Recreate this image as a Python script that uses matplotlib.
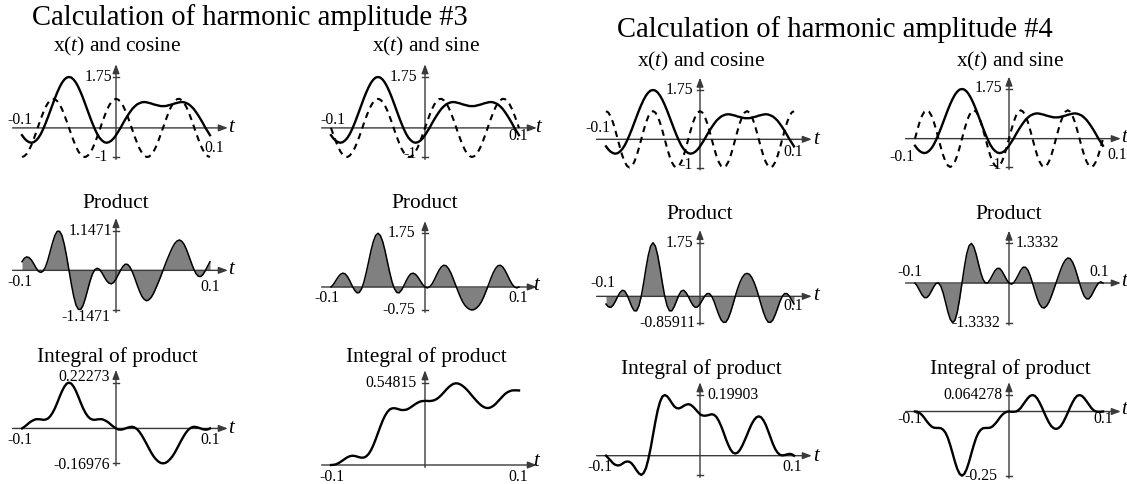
import matplotlib
matplotlib.use('Agg')
import matplotlib.pyplot as plt

plt.rcParams['font.family'] = 'Liberation Serif'
plt.rcParams['mathtext.fontset'] = 'custom'
plt.rcParams['mathtext.rm'] = 'Liberation Serif'
plt.rcParams['mathtext.it'] = 'Liberation Serif:italic'

# sample times (s), every 2.5 ms
t = [-0.1, -0.0975, -0.095, -0.0925, -0.09, -0.0875, -0.085, -0.0825, -0.08, -0.0775,
     -0.075, -0.0725, -0.07, -0.0675, -0.065, -0.0625, -0.06, -0.0575, -0.055, -0.0525,
     -0.05, -0.0475, -0.045, -0.0425, -0.04, -0.0375, -0.035, -0.0325, -0.03, -0.0275,
     -0.025, -0.0225, -0.02, -0.0175, -0.015, -0.0125, -0.01, -0.0075, -0.005, -0.0025,
     0.0, 0.0025, 0.005, 0.0075, 0.01, 0.0125, 0.015, 0.0175, 0.02, 0.0225,
     0.025, 0.0275, 0.03, 0.0325, 0.035, 0.0375, 0.04, 0.0425, 0.045, 0.0475,
     0.05, 0.0525, 0.055, 0.0575, 0.06, 0.0625, 0.065, 0.0675, 0.07, 0.0725,
     0.075, 0.0775, 0.08, 0.0825, 0.085, 0.0875, 0.09, 0.0925, 0.095, 0.0975, 0.1]

# signal x(t)
x_vals = [-0.25, -0.36, -0.44, -0.49, -0.51, -0.49, -0.43, -0.34, -0.21, -0.04,
          0.15, 0.36, 0.58, 0.80, 1.02, 1.22, 1.40, 1.55, 1.66, 1.73,
          1.75, 1.73, 1.66, 1.55, 1.40, 1.22, 1.02, 0.80, 0.58, 0.36,
          0.15, -0.04, -0.21, -0.34, -0.43, -0.49, -0.51, -0.49, -0.44, -0.36,
          -0.25, -0.12, 0.01, 0.16, 0.30, 0.43, 0.55, 0.66, 0.74, 0.81,
          0.85, 0.88, 0.89, 0.88, 0.86, 0.84, 0.81, 0.79, 0.77, 0.75,
          0.75, 0.75, 0.77, 0.79, 0.81, 0.84, 0.86, 0.88, 0.89, 0.88,
          0.85, 0.81, 0.74, 0.66, 0.55, 0.43, 0.30, 0.16, 0.01, -0.12, -0.25]

# harmonic 3 and 4 cosine / sine (dashed)
cos3 = [-1, -0.97, -0.89, -0.76, -0.59, -0.38, -0.16, 0.08, 0.31, 0.52,
        0.71, 0.85, 0.95, 1.00, 0.99, 0.92, 0.81, 0.65, 0.45, 0.23,
        0, -0.23, -0.45, -0.65, -0.81, -0.92, -0.99, -1.00, -0.95, -0.85,
        -0.71, -0.52, -0.31, -0.08, 0.16, 0.38, 0.59, 0.76, 0.89, 0.97,
        1, 0.97, 0.89, 0.76, 0.59, 0.38, 0.16, -0.08, -0.31, -0.52,
        -0.71, -0.85, -0.95, -1.00, -0.99, -0.92, -0.81, -0.65, -0.45, -0.23,
        0, 0.23, 0.45, 0.65, 0.81, 0.92, 0.99, 1.00, 0.95, 0.85,
        0.71, 0.52, 0.31, 0.08, -0.16, -0.38, -0.59, -0.76, -0.89, -0.97, -1]
sin3 = [0, -0.23, -0.45, -0.65, -0.81, -0.92, -0.99, -1.00, -0.95, -0.85,
        -0.71, -0.52, -0.31, -0.08, 0.16, 0.38, 0.59, 0.76, 0.89, 0.97,
        1, 0.97, 0.89, 0.76, 0.59, 0.38, 0.16, -0.08, -0.31, -0.52,
        -0.71, -0.85, -0.95, -1.00, -0.99, -0.92, -0.81, -0.65, -0.45, -0.23,
        0, 0.23, 0.45, 0.65, 0.81, 0.92, 0.99, 1.00, 0.95, 0.85,
        0.71, 0.52, 0.31, 0.08, -0.16, -0.38, -0.59, -0.76, -0.89, -0.97,
        -1, -0.97, -0.89, -0.76, -0.59, -0.38, -0.16, 0.08, 0.31, 0.52,
        0.71, 0.85, 0.95, 1.00, 0.99, 0.92, 0.81, 0.65, 0.45, 0.23, 0]
cos4 = [1, 0.95, 0.81, 0.59, 0.31, 0, -0.31, -0.59, -0.81, -0.95,
        -1, -0.95, -0.81, -0.59, -0.31, 0, 0.31, 0.59, 0.81, 0.95,
        1, 0.95, 0.81, 0.59, 0.31, 0, -0.31, -0.59, -0.81, -0.95,
        -1, -0.95, -0.81, -0.59, -0.31, 0, 0.31, 0.59, 0.81, 0.95,
        1, 0.95, 0.81, 0.59, 0.31, 0, -0.31, -0.59, -0.81, -0.95,
        -1, -0.95, -0.81, -0.59, -0.31, 0, 0.31, 0.59, 0.81, 0.95,
        1, 0.95, 0.81, 0.59, 0.31, 0, -0.31, -0.59, -0.81, -0.95,
        -1, -0.95, -0.81, -0.59, -0.31, 0, 0.31, 0.59, 0.81, 0.95, 1]
sin4 = [0, 0.31, 0.59, 0.81, 0.95, 1, 0.95, 0.81, 0.59, 0.31,
        0, -0.31, -0.59, -0.81, -0.95, -1, -0.95, -0.81, -0.59, -0.31,
        0, 0.31, 0.59, 0.81, 0.95, 1, 0.95, 0.81, 0.59, 0.31,
        0, -0.31, -0.59, -0.81, -0.95, -1, -0.95, -0.81, -0.59, -0.31,
        0, 0.31, 0.59, 0.81, 0.95, 1, 0.95, 0.81, 0.59, 0.31,
        0, -0.31, -0.59, -0.81, -0.95, -1, -0.95, -0.81, -0.59, -0.31,
        0, 0.31, 0.59, 0.81, 0.95, 1, 0.95, 0.81, 0.59, 0.31,
        0, -0.31, -0.59, -0.81, -0.95, -1, -0.95, -0.81, -0.59, -0.31, 0]

# products
prod_c3 = [0.25, 0.35, 0.39, 0.37, 0.30, 0.19, 0.07, -0.03, -0.06, -0.02,
           0.10, 0.30, 0.55, 0.80, 1.01, 1.13, 1.13, 1.01, 0.75, 0.40,
           0.00, -0.40, -0.75, -1.01, -1.13, -1.13, -1.01, -0.80, -0.55, -0.30,
           -0.10, 0.02, 0.06, 0.03, -0.07, -0.19, -0.30, -0.37, -0.39, -0.35,
           -0.25, -0.12, 0.01, 0.12, 0.18, 0.17, 0.09, -0.05, -0.23, -0.42,
           -0.60, -0.75, -0.84, -0.88, -0.85, -0.78, -0.66, -0.51, -0.35, -0.18,
           0.00, 0.18, 0.35, 0.51, 0.66, 0.78, 0.85, 0.88, 0.84, 0.75,
           0.60, 0.42, 0.23, 0.05, -0.09, -0.17, -0.18, -0.12, -0.01, 0.12, 0.25]
prod_s3 = [0.00, 0.08, 0.20, 0.32, 0.41, 0.45, 0.43, 0.34, 0.20, 0.04,
           -0.10, -0.19, -0.18, -0.06, 0.16, 0.47, 0.82, 1.18, 1.48, 1.68,
           1.75, 1.68, 1.48, 1.18, 0.82, 0.47, 0.16, -0.06, -0.18, -0.19,
           -0.10, 0.04, 0.20, 0.34, 0.43, 0.45, 0.41, 0.32, 0.20, 0.08,
           0.00, -0.03, 0.01, 0.10, 0.24, 0.40, 0.55, 0.66, 0.71, 0.69,
           0.60, 0.46, 0.27, 0.07, -0.13, -0.32, -0.48, -0.60, -0.68, -0.73,
           -0.75, -0.73, -0.68, -0.60, -0.48, -0.32, -0.13, 0.07, 0.27, 0.46,
           0.60, 0.69, 0.71, 0.66, 0.55, 0.40, 0.24, 0.10, 0.01, -0.03, 0.00]
prod_c4 = [-0.25, -0.34, -0.36, -0.29, -0.16, 0.00, 0.13, 0.20, 0.17, 0.04,
           -0.15, -0.34, -0.47, -0.47, -0.31, 0.00, 0.43, 0.91, 1.34, 1.64,
           1.75, 1.64, 1.34, 0.91, 0.43, 0.00, -0.31, -0.47, -0.47, -0.34,
           -0.15, 0.04, 0.17, 0.20, 0.13, 0.00, -0.16, -0.29, -0.36, -0.34,
           -0.25, -0.12, 0.01, 0.09, 0.09, 0.00, -0.17, -0.39, -0.60, -0.77,
           -0.85, -0.84, -0.72, -0.52, -0.27, 0.00, 0.25, 0.46, 0.62, 0.72,
           0.75, 0.72, 0.62, 0.46, 0.25, 0.00, -0.27, -0.52, -0.72, -0.84,
           -0.85, -0.77, -0.60, -0.39, -0.17, 0.00, 0.09, 0.09, 0.01, -0.12, -0.25]
prod_s4 = [0.00, -0.11, -0.26, -0.40, -0.49, -0.49, -0.41, -0.27, -0.12, -0.01,
           0.00, -0.11, -0.34, -0.65, -0.97, -1.22, -1.33, -1.25, -0.98, -0.53,
           0.00, 0.53, 0.98, 1.25, 1.33, 1.22, 0.97, 0.65, 0.34, 0.11,
           0.00, 0.01, 0.12, 0.27, 0.41, 0.49, 0.49, 0.40, 0.26, 0.11,
           0.00, -0.04, 0.01, 0.13, 0.28, 0.43, 0.53, 0.53, 0.44, 0.25,
           0.00, -0.27, -0.52, -0.71, -0.82, -0.84, -0.77, -0.64, -0.45, -0.23,
           0.00, 0.23, 0.45, 0.64, 0.77, 0.84, 0.82, 0.71, 0.52, 0.27,
           0.00, -0.25, -0.44, -0.53, -0.53, -0.43, -0.28, -0.13, -0.01, 0.04, 0.00]

# running integrals of the products
int_c3 = [0.000, 0.008, 0.017, 0.027, 0.035, 0.041, 0.045, 0.045, 0.044, 0.042,
          0.043, 0.048, 0.059, 0.076, 0.098, 0.125, 0.154, 0.181, 0.203, 0.218,
          0.223, 0.218, 0.203, 0.181, 0.154, 0.125, 0.098, 0.076, 0.059, 0.048,
          0.043, 0.042, 0.044, 0.045, 0.045, 0.041, 0.035, 0.027, 0.017, 0.008,
          0.000, -0.005, -0.006, -0.004, 0.000, 0.004, 0.007, 0.008, 0.004, -0.004,
          -0.017, -0.034, -0.054, -0.075, -0.097, -0.118, -0.136, -0.150, -0.161, -0.168,
          -0.170, -0.168, -0.161, -0.150, -0.136, -0.118, -0.097, -0.075, -0.054, -0.034,
          -0.017, -0.004, 0.004, 0.008, 0.007, 0.004, 0.000, -0.004, -0.006, -0.005, 0.000]
int_s3 = [0.000, 0.001, 0.004, 0.011, 0.020, 0.031, 0.042, 0.052, 0.059, 0.062,
          0.061, 0.057, 0.052, 0.049, 0.050, 0.058, 0.074, 0.099, 0.132, 0.172,
          0.215, 0.258, 0.298, 0.331, 0.356, 0.373, 0.380, 0.381, 0.378, 0.373,
          0.369, 0.369, 0.371, 0.378, 0.388, 0.399, 0.410, 0.419, 0.426, 0.429,
          0.430, 0.430, 0.429, 0.431, 0.435, 0.443, 0.455, 0.470, 0.487, 0.505,
          0.521, 0.534, 0.544, 0.548, 0.547, 0.541, 0.531, 0.518, 0.502, 0.484,
          0.465, 0.447, 0.429, 0.413, 0.399, 0.389, 0.383, 0.382, 0.387, 0.396,
          0.409, 0.426, 0.443, 0.460, 0.476, 0.487, 0.495, 0.500, 0.501, 0.501, 0.500]
int_c4 = [0.000, -0.008, -0.016, -0.025, -0.030, -0.032, -0.031, -0.026, -0.021, -0.019,
          -0.020, -0.026, -0.036, -0.048, -0.058, -0.063, -0.057, -0.041, -0.012, 0.025,
          0.068, 0.111, 0.149, 0.177, 0.194, 0.199, 0.195, 0.185, 0.173, 0.162,
          0.156, 0.155, 0.158, 0.163, 0.167, 0.169, 0.167, 0.161, 0.153, 0.144,
          0.136, 0.132, 0.131, 0.132, 0.134, 0.136, 0.134, 0.127, 0.114, 0.097,
          0.077, 0.055, 0.036, 0.020, 0.010, 0.007, 0.010, 0.019, 0.033, 0.050,
          0.068, 0.087, 0.104, 0.117, 0.126, 0.129, 0.126, 0.116, 0.101, 0.081,
          0.060, 0.039, 0.022, 0.010, 0.003, 0.001, 0.002, 0.004, 0.006, 0.005, 0.000]
int_s4 = [0.000, -0.001, -0.006, -0.014, -0.025, -0.038, -0.049, -0.058, -0.063, -0.064,
          -0.064, -0.065, -0.071, -0.083, -0.103, -0.131, -0.163, -0.196, -0.224, -0.243,
          -0.250, -0.243, -0.224, -0.196, -0.163, -0.131, -0.103, -0.083, -0.071, -0.065,
          -0.064, -0.064, -0.063, -0.058, -0.049, -0.038, -0.025, -0.014, -0.006, -0.001,
          0.000, -0.001, -0.001, 0.000, 0.005, 0.014, 0.027, 0.040, 0.052, 0.061,
          0.064, 0.061, 0.051, 0.035, 0.016, -0.005, -0.025, -0.043, -0.057, -0.065,
          -0.068, -0.065, -0.057, -0.043, -0.025, -0.005, 0.016, 0.035, 0.051, 0.061,
          0.064, 0.061, 0.052, 0.040, 0.027, 0.014, 0.005, 0.000, -0.001, -0.001, 0.000]

# y tick values shown on each panel (top, bottom)
yt_xc3 = [1.75, -1]
yt_xs3 = [1.75, -1]
yt_xc4 = [1.75, -1]
yt_xs4 = [1.75, -1]
yt_pc3 = [1.1471, -1.1471]
yt_ps3 = [1.75, -0.75]
yt_pc4 = [1.75, -0.85911]
yt_ps4 = [1.3332, -1.3332]
yt_ic3 = [0.22273, -0.16976]
yt_is3 = [0.54815, 0]
yt_ic4 = [0.19903, -0.063]
yt_is4 = [0.064278, -0.25]

W, H = 1127, 484
fig = plt.figure(figsize=(W / 100, H / 100), dpi=100)
AXC = '#3a3a3a'


def ftext(x, y, s, **kw):
    fig.text(x / W, 1 - y / H, s, **kw)


def panel(cx, ytop, ybot, ticks, show=None):
    hi, lo = ticks
    ax = fig.add_axes([(cx - 94) / W, 1 - ybot / H, 188 / W, (ybot - ytop) / H])
    ax.set_xlim(-0.1, 0.1)
    ax.set_ylim(lo, hi)
    ax.axis('off')
    span = hi - lo
    arr = dict(arrowstyle='-|>,head_length=0.45,head_width=0.17', color=AXC,
               lw=1.0, shrinkA=0, shrinkB=0, mutation_scale=12)
    ax.annotate('', xy=(0.119, 0), xytext=(-0.11, 0), arrowprops=arr,
                annotation_clip=False, zorder=3)
    ax.annotate('', xy=(0, hi + 0.16 * span), xytext=(0, lo - 0.03 * span),
                arrowprops=arr, annotation_clip=False, zorder=3)
    for v in (show if show is not None else ticks):
        ax.plot([-0.0032, 0.0032], [v, v], color=AXC, lw=1.0, clip_on=False, zorder=3)
    return ax


def labels(ticks, pos, tm, tp, tl):
    for v, (x, y, ha) in zip(ticks, pos):
        ftext(x, y, f'{v:g}', ha=ha, va='center', fontsize=11.3)
    ftext(tm[0], tm[1], '-0.1', ha='center', va='center', fontsize=11.3)
    ftext(tp[0], tp[1], '0.1', ha='center', va='center', fontsize=11.3)
    ftext(tl[0], tl[1], 't', ha='left', va='center', fontsize=15, style='italic')


ftext(250, 25, 'Calculation of harmonic amplitude #3', ha='center', va='baseline', fontsize=20.6)
ftext(835, 36.7, 'Calculation of harmonic amplitude #4', ha='center', va='baseline', fontsize=20.6)

# ---- row 1: x(t) with cosine / sine
row1 = [
    (116, 77, 157, yt_xc3, cos3, 'cosine', 51.7,
     [(112, 77, 'right'), (108, 157, 'right')], (20, 120), (214, 148), (228, 127)),
    (425, 77, 157, yt_xs3, sin3, 'sine', 51.7,
     [(417, 77, 'right'), (417, 154, 'right')], (333, 120), (518, 136), (535, 128)),
    (700, 90, 167.5, yt_xc4, cos4, 'cosine', 66.7,
     [(693, 90, 'right'), (693, 165, 'right')], (598, 128), (793, 152), (813, 139)),
    (1009, 89, 167, yt_xs4, sin4, 'sine', 66.7,
     [(1002, 88, 'right'), (1002, 165, 'right')], (902, 157), (1117, 155), (1121, 137)),
]
for cx, yt, yb, tk, wave, name, ty, pos, tm, tp, tl in row1:
    ax = panel(cx, yt, yb, tk)
    ax.plot(t, wave, color='k', lw=1.5, dashes=(3, 2.4), zorder=4, clip_on=False)
    ax.plot(t, x_vals, color='k', lw=1.7, zorder=5, clip_on=False)
    ftext(cx + 1, ty, 'x($\\it{t}$) and ' + name, ha='center', va='baseline', fontsize=15.4)
    labels(tk, pos, tm, tp, tl)

# ---- row 2: products
row2 = [
    (116, 230.7, 310, yt_pc3, prod_c3, 208.3,
     [(112, 230.7, 'right'), (110, 316.7, 'right')], (20, 281.7), (210, 286.7), (228, 270)),
    (425, 233.3, 310, yt_ps3, prod_s3, 208.3,
     [(415, 233, 'right'), (415, 310, 'right')], (327, 298), (518, 298), (533, 285)),
    (700, 242.7, 322.7, yt_pc4, prod_c4, 219.3,
     [(693, 242.7, 'right'), (695, 322.7, 'right')], (603, 283), (793, 306), (813, 296)),
    (1009, 243.3, 322.7, yt_ps4, prod_s4, 219.3,
     [(1016, 243, 'left'), (1000, 322.7, 'right')], (910, 271.7), (1099, 271.7), (1121, 281)),
]
for cx, yt, yb, tk, prod, ty, pos, tm, tp, tl in row2:
    ax = panel(cx, yt, yb, tk)
    ax.fill_between(t, prod, 0, color='#808080', lw=0, zorder=1)
    ax.plot(t, prod, color='k', lw=1.1, zorder=4, clip_on=False)
    ftext(cx, ty, 'Product', ha='center', va='baseline', fontsize=15.4)
    labels(tk, pos, tm, tp, tl)

# ---- row 3: integrals
row3 = [
    (116, 382.7, 463.3, yt_ic3, int_c3, 361.7, None,
     [(110, 376.7, 'right'), (110, 465, 'right')], (20, 440), (210, 440), (228, 428.7)),
    (425, 383.3, 465, yt_is3, int_s3, 361.7, yt_is3[:1],
     [(417, 383.3, 'right')], (332, 476.7), (518, 476.7), (533, 462)),
    (700, 395, 474.9, yt_ic4, int_c4, 374.3, None,
     [(707, 395, 'left')], (600, 466.7), (792, 466.7), (813, 456.7)),
    (1009, 395, 475.7, yt_is4, int_s4, 374.3, None,
     [(1003, 395, 'right'), (997, 475.7, 'right')], (910, 419), (1103, 419), (1121, 410)),
]
for cx, yt, yb, tk, integ, ty, show, pos, tm, tp, tl in row3:
    ax = panel(cx, yt, yb, tk, show)
    ax.plot(t, integ, color='k', lw=1.7, zorder=4, clip_on=False)
    ftext(cx + 1, ty, 'Integral of product', ha='center', va='baseline', fontsize=15.4)
    labels(tk[:len(pos)], pos, tm, tp, tl)

fig.savefig('out.png', dpi=100)
